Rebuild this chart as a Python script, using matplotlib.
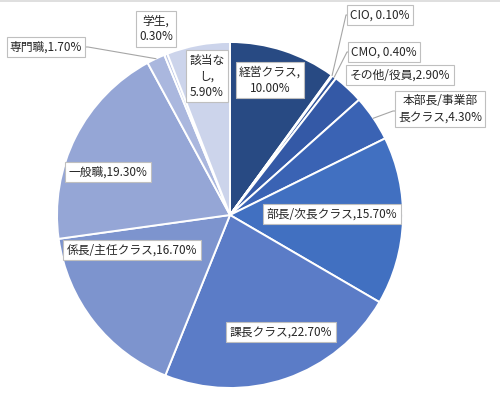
import matplotlib
matplotlib.use("Agg")
import matplotlib.pyplot as plt
import numpy as np
from matplotlib.lines import Line2D

plt.rcParams['font.family'] = ['Noto Sans CJK JP', 'DejaVu Sans']

labels = ["経営クラス,\n10.00%", "CIO, 0.10%", "CMO, 0.40%", "その他/役員,2.90%",
          "本部長/事業部\n長クラス,4.30%", "部長/次長クラス,15.70%", "課長クラス,22.70%",
          "係長/主任クラス,16.70%", "一般職,19.30%", "専門職,1.70%", "学生,\n0.30%",
          "該当な\nし,\n5.90%"]
values = [10.0, 0.1, 0.4, 2.9, 4.3, 15.7, 22.7, 16.7, 19.3, 1.7, 0.3, 5.9]
colors = ["#284A83", "#2C4E8C", "#30549A", "#3459A6", "#3A63B4", "#4170C1",
          "#5B7CC7", "#7D94CE", "#95A6D6", "#AAB7DE", "#BCC6E5", "#CCD4EB"]

# label box centres in pixels (x, y from top)
label_px = [(270, 80), (380, 15), (384, 52), (400, 75), (440, 109), (332, 214),
            (281, 332), (132, 250), (108, 172), (46, 47), (156, 29), (207, 76)]
# leader line end at the label (pixels), None = no leader
leader_px = [None, (350, 15), (351, 52), None, (397, 111), None,
             None, None, None, (84, 47), None, None]

W, H = 500, 395
cx, cy, R = 230, 215, 173

fig = plt.figure(figsize=(5, 3.95), dpi=100)
ax = fig.add_axes([(cx - R) / W, (H - cy - R) / H, 2 * R / W, 2 * R / H])
wedges, _ = ax.pie(values, colors=colors, startangle=90, counterclock=False,
                   radius=1, wedgeprops=dict(edgecolor="white", linewidth=1.4))
ax.set_xlim(-1, 1)
ax.set_ylim(-1, 1)
ax.axis('off')


def to_data(px, py):
    return (px - cx) / R, (cy - py) / R


for i, lab in enumerate(labels):
    x, y = to_data(*label_px[i])
    ax.text(x, y, lab, ha='center', va='center', fontsize=8.5, color="#262626",
            linespacing=1.3, multialignment='center', clip_on=False, zorder=5,
            bbox=dict(boxstyle='square,pad=0.28', fc='white', ec='#BFBFBF', lw=0.8))
    if leader_px[i] is not None:
        w = wedges[i]
        ang = np.deg2rad((w.theta1 + w.theta2) / 2)
        x0, y0 = np.cos(ang), np.sin(ang)
        lx, ly = to_data(*leader_px[i])
        stub = 4 / R if lx > x0 else -4 / R
        ax.plot([x0, lx - stub, lx], [y0, ly, ly], color="#A6A6A6", lw=0.8,
                clip_on=False, zorder=4)

fig.add_artist(Line2D([0, 1], [0.998, 0.998], color="#D9D9D9", lw=1.2,
                      transform=fig.transFigure))

fig.savefig("out.png", dpi=100)
